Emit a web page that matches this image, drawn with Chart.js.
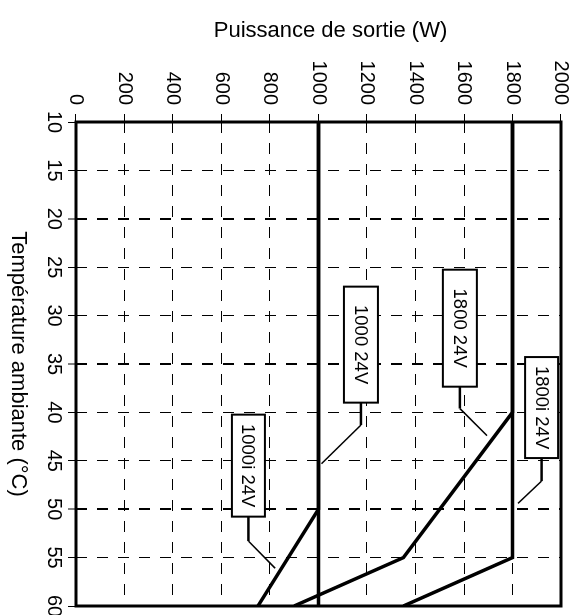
<!DOCTYPE html>
<html>
<head>
<meta charset="utf-8">
<script src="https://cdn.jsdelivr.net/npm/chart.js@4.4.1/dist/chart.umd.min.js"></script>
<style>
  html, body { margin: 0; padding: 0; background: #fff; overflow: hidden; }
  /* the figure is an ordinary chart turned a quarter turn clockwise */
  #wrap { position: absolute; left: 0; top: 0; width: 615px; height: 579px;
          transform-origin: 0 0; transform: translateX(579px) rotate(90deg); }
</style>
</head>
<body>
<div id="wrap"><canvas id="chart" width="615" height="579"></canvas></div>
<script>
const TEMPS_1000I = [10, 50, 60]
const POWER_1000I = [1000, 1000, 750]
const TEMPS_1000  = [10, 60]
const POWER_1000  = [1000, 1000]
const TEMPS_1800  = [10, 40, 55, 60]
const POWER_1800  = [1800, 1800, 1350, 900]
const TEMPS_1800I = [10, 55, 60]
const POWER_1800I = [1800, 1800, 1350]

const TEMP_TICKS  = [10, 15, 20, 25, 30, 35, 40, 45, 50, 55, 60]
const POWER_TICKS = [0, 200, 400, 600, 800, 1000, 1200, 1400, 1600, 1800, 2000]

// callout boxes: centre, knee and end of leader in data units, box size in px
const CALLOUTS = [
  { name: '1000 24V',  at: [33.0, 1175], size: [116, 34], knee: 41.3, end: [45.3, 1012] },
  { name: '1800 24V',  at: [31.3, 1583], size: [117, 34], knee: 39.6, end: [42.4, 1695] },
  { name: '1800i 24V', at: [39.5, 1920], size: [101, 33], knee: 47.1, end: [49.4, 1823] },
  { name: '1000i 24V', at: [45.5, 711],  size: [102, 33], knee: 53.3, end: [56.1, 821] }
]

const FONT = "'Liberation Sans', Arial, Helvetica, sans-serif"
const pts = (xs, ys) => xs.map((x, i) => ({ x, y: ys[i] }))

const frame = {
  id: 'frame',
  afterDatasetsDraw(chart) {
    const { ctx, chartArea: a, scales: { x, y } } = chart
    ctx.save()
    ctx.strokeStyle = '#000'
    ctx.lineWidth = 3
    ctx.strokeRect(a.left, a.top, a.right - a.left, a.bottom - a.top)

    CALLOUTS.forEach(c => {
      const cx = x.getPixelForValue(c.at[0])
      const cy = y.getPixelForValue(c.at[1])
      const [w, h] = c.size
      const kx = x.getPixelForValue(c.knee)
      const ex = x.getPixelForValue(c.end[0])
      const ey = y.getPixelForValue(c.end[1])
      ctx.lineWidth = 2.5
      ctx.beginPath(); ctx.moveTo(cx + w / 2, cy); ctx.lineTo(kx, cy); ctx.stroke()
      ctx.lineWidth = 1.5
      ctx.beginPath(); ctx.moveTo(kx, cy); ctx.lineTo(ex, ey); ctx.stroke()
      ctx.fillStyle = '#fff'
      ctx.fillRect(cx - w / 2, cy - h / 2, w, h)
      ctx.lineWidth = 2
      ctx.strokeRect(cx - w / 2, cy - h / 2, w, h)
      ctx.fillStyle = '#000'
      ctx.font = '18.5px ' + FONT
      ctx.textAlign = 'center'
      ctx.textBaseline = 'middle'
      ctx.fillText(c.name, cx, cy + 1)
    })

    // power axis title sits a little off the axis centre in the source
    ctx.translate(31, (a.top + a.bottom) / 2 - 12)
    ctx.rotate(-Math.PI / 2)
    ctx.fillStyle = '#000'
    ctx.font = '22px ' + FONT
    ctx.textAlign = 'center'
    ctx.textBaseline = 'middle'
    ctx.fillText('Puissance de sortie (W)', 0, 0)
    ctx.restore()
  }
}

const line = (label, data) => ({
  label, data, borderColor: '#000', borderWidth: 3.5, pointRadius: 0, fill: false, tension: 0
})

const noEdgePad = s => { s.paddingLeft = 0; s.paddingRight = 0; s.paddingTop = 0; s.paddingBottom = 0 }

new Chart(document.getElementById('chart'), {
  type: 'line',
  data: {
    datasets: [
      line('1000i 24V', pts(TEMPS_1000I, POWER_1000I)),
      line('1000 24V',  pts(TEMPS_1000,  POWER_1000)),
      line('1800 24V',  pts(TEMPS_1800,  POWER_1800)),
      line('1800i 24V', pts(TEMPS_1800I, POWER_1800I))
    ]
  },
  options: {
    responsive: false,
    animation: false,
    layout: { padding: { top: 18, right: 9, left: 0, bottom: 0 } },
    plugins: { legend: { display: false }, tooltip: { enabled: false } },
    scales: {
      x: {
        type: 'linear', min: 10, max: 60,
        afterBuildTicks: s => { s.ticks = TEMP_TICKS.map(v => ({ value: v })) },
        afterFit: s => { s.height = 76; noEdgePad(s) },
        ticks: {
          color: '#000', font: { family: FONT, size: 20 }, padding: 2,
          autoSkip: false, maxRotation: 0, callback: v => String(v)
        },
        grid: {
          color: '#000',
          lineWidth: c => [20, 35, 50].includes(c.tick && c.tick.value) ? 2 : 1,
          tickLength: 8, tickColor: '#000', tickWidth: 1, tickBorderDash: []
        },
        border: { display: false, dash: [11, 10], dashOffset: 9 },
        title: {
          display: true, text: 'Température ambiante (°C)', color: '#000',
          font: { family: FONT, size: 22 }, padding: { top: 0, bottom: 5 }
        }
      },
      y: {
        type: 'linear', min: 0, max: 2000,
        afterBuildTicks: s => { s.ticks = POWER_TICKS.map(v => ({ value: v })) },
        afterFit: s => { s.width = 122; noEdgePad(s) },
        ticks: {
          color: '#000', font: { family: FONT, size: 20 }, padding: 9,
          autoSkip: false, callback: v => String(v)
        },
        grid: {
          color: '#000', lineWidth: 1,
          tickLength: 8, tickColor: '#000', tickWidth: 1, tickBorderDash: []
        },
        border: { display: false, dash: [11, 10], dashOffset: 0 },
        title: { display: false }
      }
    }
  },
  plugins: [frame]
})
</script>
</body>
</html>
